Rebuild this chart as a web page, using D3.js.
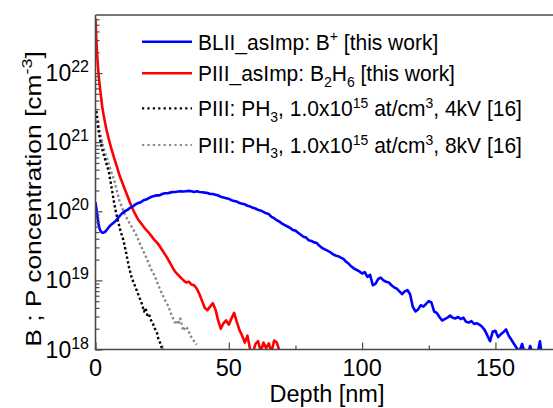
<!DOCTYPE html>
<html><head><meta charset="utf-8">
<script src="https://cdn.jsdelivr.net/npm/d3@7"></script>
<style>
body{margin:0;background:#fff}
svg{display:block}
text{font-family:"Liberation Sans",Arial,sans-serif;fill:#000}
</style>
</head><body>
<svg id="chart" width="553" height="408"></svg>
<script>
// ---- data (depth in nm, concentration as log10 of cm^-3) ----
const blueDepth = [0,0.4,0.8,1.2,1.6,2.0,2.5,3.0,3.5,4.0,4.6,5.2,6,7,8,9,10,11,12,13,14,15,16,17,18,19,20,21,22,23,24,25,26,27,28,29,30,31,32,33,34,35,36,37,38,39,40,41,42,43,44,45,46,47,48,49,50,51,52,53,54,55,56,57,58,59,60,61,62,63,64,65,66,67,68,69,70,71,72,73,74,75,76,77,78,79,80,81,82,83,84,85,86,87,88,89,90,91,92,93,94,95,96,97,98,99,100,101,102,103,104,105,106,107,108,109,110,111,112,113,114,115,116,117,118,119,120,121,122,123,124,125,126,127,128,129,130,131,132,133,134,135,136,137,138,139,140,141,142,143,144,145,146,147,148,149,150,151,152,153,154,155,156,157,158,159,160,161,162,163,164,165,166,166.7,167.3,168];
const blueLog = [20.13,20.02,19.90,19.80,19.74,19.71,19.69,19.69,19.70,19.72,19.75,19.78,19.81,19.84,19.88,19.93,19.97,20.00,20.02,20.05,20.07,20.10,20.12,20.13,20.16,20.17,20.19,20.21,20.22,20.23,20.23,20.25,20.26,20.26,20.27,20.28,20.28,20.285,20.29,20.285,20.29,20.295,20.29,20.28,20.29,20.28,20.275,20.27,20.265,20.25,20.25,20.24,20.23,20.21,20.20,20.19,20.18,20.16,20.15,20.14,20.12,20.11,20.10,20.08,20.07,20.05,20.04,20.02,20.01,19.99,19.97,19.96,19.92,19.90,19.87,19.85,19.82,19.80,19.78,19.76,19.73,19.72,19.69,19.66,19.63,19.62,19.58,19.57,19.55,19.54,19.50,19.47,19.45,19.43,19.41,19.38,19.36,19.35,19.33,19.31,19.27,19.24,19.20,19.17,19.15,19.13,19.10,19.12,19.05,19.08,18.93,18.95,19.02,19.04,19.00,18.98,18.97,18.93,18.90,18.88,18.84,18.80,18.84,18.86,18.80,18.62,18.55,18.58,18.64,18.62,18.66,18.70,18.68,18.55,18.53,18.47,18.42,18.44,18.46,18.49,18.46,18.45,18.47,18.44,18.46,18.40,18.39,18.41,18.37,18.38,18.36,18.33,18.28,18.20,18.12,18.26,18.27,18.18,18.22,18.25,18.29,18.20,18.14,18.08,18.02,17.97,18.08,17.95,17.90,18.05,17.95,17.92,17.98,18.12,17.95,17.90];

const redDepth = [0,0.3,0.6,1.0,1.5,2,2.5,3,4,5,6,7,8,9,10,11,12,13,14,15,16,17,18,19,20,21,22,23,24,25,26,27,28,29,30,31,32,33,34,35,36,37,38,39,40,41,42,43,44,45,46,47,48,49,50,51,52,53,54,55,56,57,58,59,60,61,62,63,64,65,66,67,68,69,70];
const redLog = [22.79,22.50,22.28,22.05,21.85,21.68,21.52,21.40,21.20,21.04,20.90,20.77,20.65,20.52,20.42,20.32,20.22,20.12,20.03,19.95,19.88,19.83,19.78,19.73,19.69,19.64,19.59,19.55,19.50,19.44,19.38,19.32,19.25,19.18,19.12,19.08,19.04,19.00,18.97,18.98,18.94,18.93,18.88,18.80,18.70,18.60,18.57,18.62,18.67,18.58,18.42,18.30,18.38,18.42,18.36,18.45,18.53,18.40,18.28,18.20,18.10,18.20,18.00,17.95,18.08,18.12,17.97,18.10,18.02,18.09,17.96,18.13,18.10,17.98,17.90];

const ph4Depth = [0.3,1,2,3,4,5,6,7,7.6,8.5,9.5,10.4,11.5,12.5,13.5,14.5,15.5,16.5,17.5,18.2,18.8,19.4,20,20.6,21.5,22.3,23,23.6,24.2,24.8,25.2];
const ph4Log = [21.45,21.20,20.98,20.83,20.70,20.57,20.35,20.12,20.00,19.85,19.70,19.59,19.40,19.20,19.05,18.95,18.85,18.75,18.65,18.55,18.60,18.50,18.52,18.44,18.38,18.30,18.25,18.15,18.10,18.03,17.98];

const ph8Depth = [0.3,1,2,3,4,5,6,7,8,9,10.5,12,13.5,15.4,17,18.5,19.8,21,22.3,23.5,24.8,26,27.3,28.5,29.8,30.5,31,31.8,32.9,33.8,34.8,35.5,36.5,37.3,38];
const ph8Log = [21.45,21.28,21.08,20.92,20.80,20.68,20.56,20.45,20.30,20.15,20.00,19.88,19.78,19.65,19.50,19.38,19.26,19.15,19.06,18.93,18.82,18.72,18.63,18.50,18.39,18.42,18.36,18.45,18.27,18.33,18.29,18.20,18.15,18.10,18.07];

const xTickValues = [0,25,50,75,100,125,150];
const xTickLabels = ["0","","50","","100","","150"];
const yMajorExps = [18,19,20,21,22];

const seriesNames = [
  "BLII_asImp: B+ [this work]",
  "PIII_asImp: B2H6 [this work]",
  "PIII: PH3, 1.0x10^15 at/cm3, 4kV [16]",
  "PIII: PH3, 1.0x10^15 at/cm3, 8kV [16]"
];

// ---- chart ----
const SY = 1.04; // slight vertical text stretch of the original picture
const svg = d3.select("#chart");
const L = 95.5, R = 553, T = 15, B = 349.5;
const x = d3.scaleLinear().domain([0, 171.6]).range([L, R]);
const y = d3.scaleLog().domain([1e18, Math.pow(10, 22.84)]).range([B, T]);

svg.append("defs").append("clipPath").attr("id","clip")
  .append("rect").attr("x",L).attr("y",T).attr("width",R-L).attr("height",B-T);

const toPts = (ds, ls) => ds.map((d,i)=>[d, Math.pow(10, ls[i])]);
const line = d3.line().x(d=>x(d[0])).y(d=>y(d[1]));

const series = [
  {pts: toPts(ph8Depth, ph8Log), color:"#8a8a8a", dash:"2.4 2.4", w:2.4},
  {pts: toPts(ph4Depth, ph4Log), color:"#000000", dash:"2.4 2.4", w:2.4},
  {pts: toPts(redDepth, redLog), color:"#ff0000", dash:null, w:2.6},
  {pts: toPts(blueDepth, blueLog), color:"#0000ff", dash:null, w:2.6}
];
const g = svg.append("g").attr("clip-path","url(#clip)");
series.forEach(s=>{
  g.append("path").attr("d", line(s.pts)).attr("fill","none")
   .attr("stroke", s.color).attr("stroke-width", s.w)
   .attr("stroke-dasharray", s.dash).attr("stroke-linejoin","round");
});

// axes
const axColor = "#4a4a4a";
const yAxis = d3.axisLeft(y).tickSizeOuter(0).tickFormat("");
const yg = svg.append("g").attr("transform",`translate(${L},0)`).call(yAxis);
yg.selectAll(".tick line").attr("x2", d=> {
  const e = Math.log10(d); return Math.abs(e-Math.round(e))<1e-9 ? 7 : 4; });
yg.select(".domain").remove();
const xAxis = d3.axisBottom(x).tickValues(xTickValues).tickSizeOuter(0).tickFormat("");
const xg = svg.append("g").attr("transform",`translate(0,${B})`).call(xAxis);
xg.selectAll(".tick line").attr("y2", (d,i)=> xTickLabels[i] ? -7 : -4);
xg.select(".domain").remove();
svg.selectAll(".tick line").attr("stroke", axColor).attr("stroke-width",1.2);

svg.append("line").attr("x1",L).attr("x2",L).attr("y1",T).attr("y2",B+0.75).attr("stroke",axColor).attr("stroke-width",1.6);
svg.append("line").attr("x1",L).attr("x2",R).attr("y1",B).attr("y2",B).attr("stroke",axColor).attr("stroke-width",1.6);
svg.append("line").attr("x1",L).attr("x2",R).attr("y1",T).attr("y2",T).attr("stroke",axColor).attr("stroke-width",1.6);

function stretched(px, py, sy, rot){
  return `translate(${px},${py}) scale(1,${sy})` + (rot ? ` rotate(${rot})` : "");
}
// x tick labels
xTickValues.forEach((v,i)=>{
  if(!xTickLabels[i]) return;
  svg.append("text").attr("transform", stretched(x(v), 375.5, 1.0))
    .attr("text-anchor","middle").attr("font-size",23.5).text(xTickLabels[i]);
});
// y tick labels
yMajorExps.forEach(e=>{
  const t = svg.append("text").attr("transform", stretched(89, y(Math.pow(10,e))+8, 1.0))
    .attr("text-anchor","end").attr("font-size",23);
  t.append("tspan").text("10");
  t.append("tspan").attr("font-size",16).attr("dy",-9).text(String(e));
});
// axis titles
svg.append("text").attr("transform", stretched(327, 401.5, 1.0))
  .attr("text-anchor","middle").attr("font-size",23.5).text("Depth [nm]");
const yl = svg.append("text").attr("transform", stretched(41, 199, 1.2, -90))
  .attr("text-anchor","middle").attr("font-size",22);
yl.append("tspan").text("B ; P concentration [cm");
yl.append("tspan").attr("font-size",15).attr("dy",-9).text("-3");
yl.append("tspan").attr("dy",9).text("]");

// legend
const legRows = [41.7, 73.3, 108.3, 145];
const legStyle = [series[3], series[2], series[1], series[0]];
const legParts = [
  [["BLII_asImp: B",0],["+",-1],[" [this work]",0]],
  [["PIII_asImp: B",0],["2",1],["H",0],["6",1],[" [this work]",0]],
  [["PIII: PH",0],["3",1],[", 1.0x10",0],["15",-1],[" at/cm",0],["3",-1],[", 4kV [16]",0]],
  [["PIII: PH",0],["3",1],[", 1.0x10",0],["15",-1],[" at/cm",0],["3",-1],[", 8kV [16]",0]]
];
legRows.forEach((ry,i)=>{
  const s = legStyle[i];
  svg.append("line").attr("x1",142).attr("x2",192).attr("y1",ry).attr("y2",ry)
    .attr("stroke", s.color).attr("stroke-width", s.dash ? 2.2 : 2.6)
    .attr("stroke-dasharray", s.dash ? "2.2 3.2" : null);
  const t = svg.append("text").attr("transform", stretched(198, ry+8, SY))
    .attr("font-size",21).attr("data-name", seriesNames[i]);
  let cur = 0;
  legParts[i].forEach(([txt, pos])=>{
    const target = pos===-1 ? -8 : pos===1 ? 5 : 0;
    t.append("tspan").attr("dy", target-cur).attr("font-size", pos ? 14 : 21).text(txt);
    cur = target;
  });
});
</script>
</body></html>
